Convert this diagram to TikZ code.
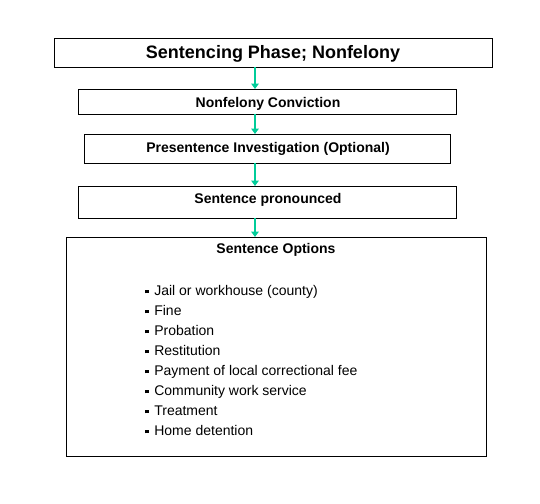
\documentclass[tikz,border=0pt]{standalone}
\usepackage{fontspec}
\setmainfont{Liberation Sans}
\usetikzlibrary{arrows.meta}
\definecolor{arrowteal}{RGB}{0,204,153}
\newcommand{\sqbul}{\raisebox{1.6pt}{\rule{2.8pt}{2.8pt}}\hspace{4pt}}
\begin{document}
\begin{tikzpicture}[x=0.75pt,y=-0.75pt,
  box/.style={draw=black,line width=0.75pt,fill=white},
  conn/.style={draw=arrowteal,line width=2.2pt,-{Triangle[width=5.5pt,length=4pt]}},
  lbl/.style={inner sep=0pt,anchor=base,font=\bfseries\fontsize{10.5}{12}\selectfont}]
\useasboundingbox (0,0) rectangle (540,504);
\fill[white] (0,0) rectangle (540,504);
% boxes
\draw[box] (54,38) rectangle (492,67);
\coordinate (b1b) at (255,67);
\draw[box] (78,89) rectangle (456,114);
\coordinate (b2t) at (255,89); \coordinate (b2b) at (255,114);
\draw[box] (84,134) rectangle (450,163);
\coordinate (b3t) at (255,134); \coordinate (b3b) at (255,163);
\draw[box] (78,186) rectangle (456,218);
\coordinate (b4t) at (255,186); \coordinate (b4b) at (255,218);
\draw[box] (66,237) rectangle (486,456);
\coordinate (b5t) at (255,237);
% texts
\node[inner sep=0pt,anchor=base,font=\bfseries\fontsize{13.5}{16}\selectfont] (t1) at (273,58) {Sentencing Phase; Nonfelony};
\node[lbl] (t2) at (268,107) {Nonfelony Conviction};
\node[lbl] (t3) at (268,152) {Presentence Investigation (Optional)};
\node[lbl] (t4) at (268,203) {Sentence pronounced};
\node[lbl] (t5) at (276,253) {Sentence Options};
\node[inner sep=0pt,anchor=north west,align=left,font=\fontsize{10.5}{15}\selectfont] (list) at (145,285) {%
\sqbul Jail or workhouse (county)\\
\sqbul Fine\\
\sqbul Probation\\
\sqbul Restitution\\
\sqbul Payment of local correctional fee\\
\sqbul Community work service\\
\sqbul Treatment\\
\sqbul Home detention};
% connectors
\draw[conn] (b1b) -- (b2t);
\draw[conn] (b2b) -- (b3t);
\draw[conn] (b3b) -- (b4t);
\draw[conn] (b4b) -- (b5t);
\end{tikzpicture}
\end{document}
